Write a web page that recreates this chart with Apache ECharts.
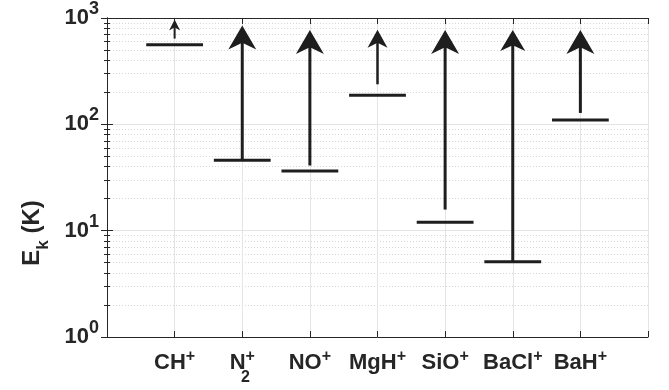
<!DOCTYPE html>
<html>
<head>
<meta charset="utf-8">
<title>Ek</title>
<script src="https://cdn.jsdelivr.net/npm/echarts@6/dist/echarts.min.js"></script>
</head>
<body style="margin:0">
<div id="chartmain" style="width:669px;height:390px;"></div>
<script type="text/javascript">
// molecules on the x axis (digit = subscript, + = charge)
var molecules = ['CH+', 'N2+', 'NO+', 'MgH+', 'SiO+', 'BaCl+', 'BaH+'];
// E_k level (K) of each molecule, the horizontal bars
var ekLevel = [560, 46, 36.5, 188, 12, 5.1, 110];
// arrows: start and tip (K)
var arrowFrom = [640, 46, 41, 238, 15.8, 5.1, 128];
var arrowTo = [970, 850, 770, 775, 770, 770, 770];
// y tick exponents, 10^0 .. 10^3
var yExp = [0, 1, 2, 3];

// styles
var ink = '#1e1e1e';
var font = 'Liberation Sans, Arial, Helvetica, sans-serif';
var headW = [11, 28, 28, 20, 28, 25, 28];
var headL = [11, 24, 24, 18, 24, 21, 24];
var shaftW = [2, 3, 3, 2.5, 3, 3, 3];
var barHalf = 0.42;

var myChart = echarts.init(document.getElementById('chartmain'));

function xLabel(v) {
    var i = Math.round(v) - 1;
    if (i < 0 || i >= molecules.length) return '';
    var m = molecules[i].match(/^([A-Za-z]+)(\d*)\+$/);
    var s = '{b|' + m[1] + '}';
    if (m[2]) s += '{s|' + m[2] + '}';
    return s + '{p|+}';
}

function yLabel(v) {
    var e = Math.round(Math.log10(v));
    if (yExp.indexOf(e) < 0) return '';
    return '{b|10}{p|' + e + '}';
}

function renderArrow(params, api) {
    var i = params.dataIndex;
    var x = api.value(0);
    var left = api.coord([x - barHalf, api.value(1)]);
    var right = api.coord([x + barHalf, api.value(1)]);
    var from = api.coord([x, api.value(2)]);
    var tip = api.coord([x, api.value(3)]);
    var w = headW[i], l = headL[i];
    return {
        type: 'group',
        children: [
            { type: 'line', shape: { x1: left[0], y1: left[1], x2: right[0], y2: right[1] },
              style: { stroke: ink, lineWidth: 3 } },
            { type: 'line', shape: { x1: from[0], y1: from[1], x2: tip[0], y2: tip[1] + l * 0.6 },
              style: { stroke: ink, lineWidth: shaftW[i] } },
            { type: 'polygon', shape: { points: [[tip[0], tip[1]], [tip[0] + w / 2, tip[1] + l],
                  [tip[0], tip[1] + l * 0.72], [tip[0] - w / 2, tip[1] + l]] },
              style: { fill: ink } }
        ]
    };
}

var axisLineStyle = { color: '#262626', width: 1 };
var majorGrid = { show: true, lineStyle: { color: '#e4e4e4', width: 1 } };

myChart.setOption({
    animation: false,
    textStyle: { fontFamily: font },
    grid: { left: 107, right: 21, top: 15, bottom: 53 },
    graphic: [{
        type: 'text',
        x: 40,
        y: 233,
        rotation: Math.PI / 2,
        style: {
            text: '{e|E}{k|k}{e| (K)}',
            align: 'center',
            verticalAlign: 'middle',
            rich: {
                e: { fontSize: 24, fontWeight: 'bold', fontFamily: font, fill: '#262626',
                     lineHeight: 24, padding: [0, 0, 8, 0], verticalAlign: 'bottom' },
                k: { fontSize: 17, fontWeight: 'bold', fontFamily: font, fill: '#262626',
                     lineHeight: 17, verticalAlign: 'bottom' }
            }
        }
    }],
    xAxis: [{
        type: 'value', min: 0, max: 8, interval: 1, position: 'bottom',
        axisLine: { lineStyle: axisLineStyle },
        axisTick: { inside: true, length: 6, lineStyle: axisLineStyle },
        splitLine: majorGrid,
        axisLabel: {
            margin: 25, formatter: xLabel, color: '#262626',
            rich: {
                b: { fontSize: 22, fontWeight: 'bold', fontFamily: font, lineHeight: 24,
                     padding: [0, 0, 12, 0], verticalAlign: 'bottom' },
                p: { fontSize: 16, fontWeight: 'bold', fontFamily: font, lineHeight: 16,
                     padding: [0, 0, 21, 0], verticalAlign: 'bottom' },
                s: { fontSize: 16, fontWeight: 'bold', fontFamily: font, lineHeight: 16,
                     width: 0, verticalAlign: 'bottom' }
            }
        }
    }, {
        type: 'value', min: 0, max: 8, interval: 1, position: 'top',
        axisLine: { show: true, lineStyle: axisLineStyle },
        axisTick: { show: true, inside: true, length: 6, lineStyle: axisLineStyle },
        axisLabel: { show: false },
        splitLine: { show: false }
    }],
    yAxis: [{
        type: 'log', min: 1, max: 1000, logBase: 10, position: 'left',
        axisLine: { show: true, lineStyle: axisLineStyle },
        axisTick: { show: true, inside: true, length: 6, lineStyle: axisLineStyle },
        minorTick: { show: true, splitNumber: 9, length: 3, lineStyle: axisLineStyle },
        splitLine: majorGrid,
        minorSplitLine: { show: true, lineStyle: { color: '#d6d6d6', type: [1, 2], width: 1 } },
        axisLabel: {
            margin: 8, formatter: yLabel, color: '#262626',
            rich: {
                b: { fontSize: 22, fontWeight: 'bold', fontFamily: font, lineHeight: 22,
                     verticalAlign: 'bottom' },
                p: { fontSize: 18, fontWeight: 'bold', fontFamily: font, lineHeight: 18,
                     padding: [0, 0, 11, 0], verticalAlign: 'bottom' }
            }
        }
    }, {
        type: 'log', min: 1, max: 1000, logBase: 10, position: 'right',
        axisLine: { show: true, lineStyle: axisLineStyle },
        axisTick: { show: true, inside: true, length: 6, lineStyle: axisLineStyle },
        minorTick: { show: true, splitNumber: 9, length: 3, lineStyle: axisLineStyle },
        axisLabel: { show: false },
        splitLine: { show: false }
    }],
    series: [{
        type: 'custom',
        xAxisIndex: 0,
        yAxisIndex: 0,
        renderItem: renderArrow,
        data: molecules.map(function (m, i) {
            return [i + 1, ekLevel[i], arrowFrom[i], arrowTo[i]];
        })
    }]
});
</script>
</body>
</html>
